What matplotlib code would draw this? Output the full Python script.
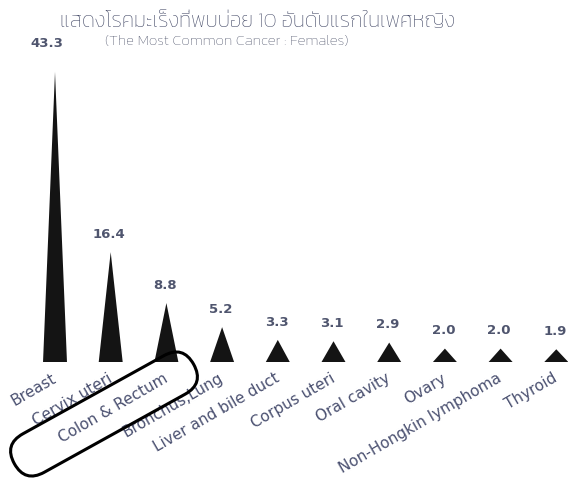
import matplotlib
matplotlib.use("Agg")
import matplotlib.pyplot as plt
from matplotlib.patches import FancyBboxPatch
from matplotlib.transforms import Affine2D

W, H = 568, 480

title_th = "แสดงโรคมะเร็งที่พบบ่อย 10 อันดับแรกในเพศหญิง"
subtitle = "(The Most Common Cancer : Females)"

cancers = ["Breast", "Cervix uteri", "Colon & Rectum", "Bronchus,Lung",
           "Liver and bile duct", "Corpus uteri", "Oral cavity", "Ovary",
           "Non-Hongkin lymphoma", "Thyroid"]
rates = [43.3, 16.4, 8.8, 5.2, 3.3, 3.1, 2.9, 2.0, 2.0, 1.9]

text_col = "#4a5070"
spike_col = "#141414"

fig = plt.figure(figsize=(W / 100, H / 100), dpi=100)
# axes laid out in pixels: baseline at y=362 from the top
ax = fig.add_axes([0, 118 / H, 1, 332 / H])
step = 55.7
ax.set_xlim(-55 / step, (W - 55) / step)
ax.set_ylim(0, 332 / 6.7)

half = 0.215
for i, v in enumerate(rates):
    ax.fill([i - half, i, i + half], [0, v, 0], color=spike_col, lw=0)
    # the tallest spike gets its label pushed up beside the subtitle
    off = (-6, 16) if i == 0 else (-1, 8)
    ax.annotate(f"{v:.1f}", (i, v), xytext=off, textcoords="offset points",
                ha="center", va="bottom", fontsize=9.5, fontweight="bold",
                color="#4f556e", family="DejaVu Sans")

ax.set_xticks(range(len(cancers)))
ax.set_xticklabels(cancers, rotation=30, ha="right", va="center",
                   rotation_mode="anchor", fontsize=11, color=text_col,
                   family="DejaVu Sans")
ax.tick_params(axis="x", length=0, pad=11)
ax.set_yticks([])
for s in ax.spines.values():
    s.set_visible(False)
ax.patch.set_alpha(0)

fig.text(258 / W, 1 - 22 / H, title_th, ha="center", va="center",
         fontsize=15, color="#454b68", family="Kanit", fontweight="light")
fig.text(227 / W, 1 - 42 / H, subtitle, ha="center", va="center",
         fontsize=11, color="#40465f", family="Kanit", fontweight="light")

# rounded outline around the Colon & Rectum label, drawn in figure pixels
px = Affine2D().scale(1 / W, 1 / H) + fig.transFigure
cx, cy = 104, H - 414
bw, bh = 205, 44
box = FancyBboxPatch((cx - bw / 2, cy - bh / 2), bw, bh,
                     boxstyle="round,pad=0,rounding_size=22",
                     fill=False, ec="black", lw=2.2,
                     transform=Affine2D().rotate_deg_around(cx, cy, 29) + px)
fig.patches.append(box)

fig.savefig("out.png", dpi=100)
